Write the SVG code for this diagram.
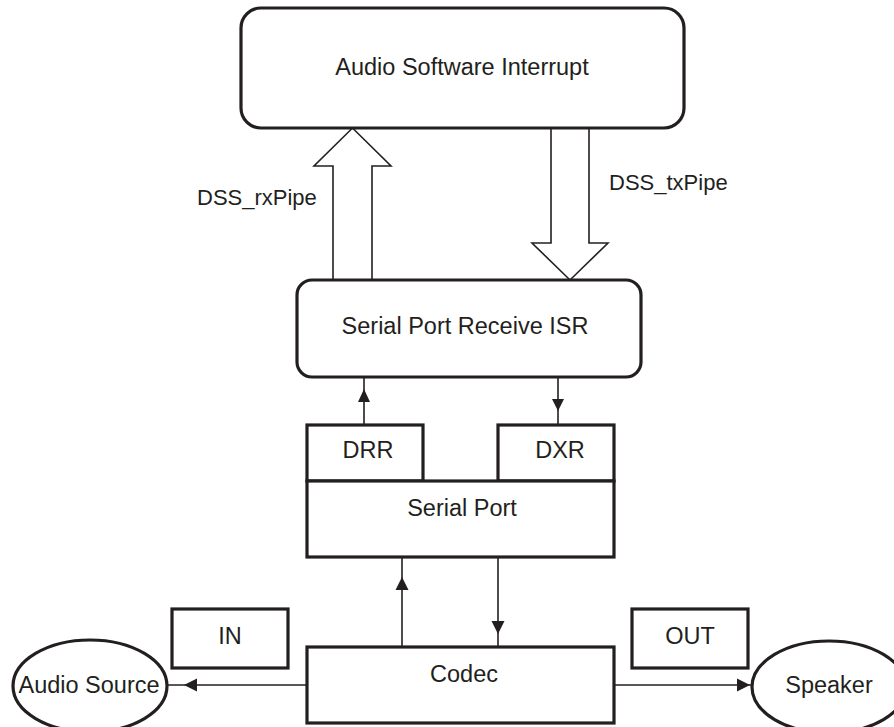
<svg xmlns="http://www.w3.org/2000/svg" width="894" height="727" viewBox="0 0 894 727">
  <style>
    .box { fill: #ffffff; stroke: #231f20; stroke-width: 3.2; }
    .pipe { fill: #ffffff; stroke: #231f20; stroke-width: 1.6; stroke-linejoin: miter; }
    .wire { fill: none; stroke: #231f20; stroke-width: 1.6; }
    .head { fill: #231f20; stroke: none; }
    .lbl { font-family: "Liberation Sans", Arial, sans-serif; font-size: 23.5px; fill: #231f20; text-anchor: middle; }
    .cap { font-family: "Liberation Sans", Arial, sans-serif; font-size: 22px; fill: #231f20; }
  </style>
  <rect x="0" y="0" width="894" height="727" fill="#ffffff"/>

  <!-- connectors -->
  <g id="connectors">
    <!-- DSS_rxPipe: hollow block arrow up -->
    <polygon class="pipe" points="333,280 333,166 314,166 352.5,128 391,166 372,166 372,280"/>
    <text class="cap" x="197" y="205">DSS_rxPipe</text>
    <!-- DSS_txPipe: hollow block arrow down -->
    <polygon class="pipe" points="551,128 551,243 532,243 570,280 608,243 589,243 589,128"/>
    <text class="cap" x="609" y="190">DSS_txPipe</text>

    <!-- DRR -> ISR -->
    <line class="wire" x1="364" y1="425" x2="364" y2="378"/>
    <polygon class="head" points="364,389 358,402 370,402"/>
    <!-- ISR -> DXR -->
    <line class="wire" x1="558" y1="378" x2="558" y2="425"/>
    <polygon class="head" points="558,411 552,399 564,399"/>

    <!-- Codec -> Serial Port -->
    <line class="wire" x1="402" y1="647" x2="402" y2="557"/>
    <polygon class="head" points="402,577 395.5,590 408.5,590"/>
    <!-- Serial Port -> Codec -->
    <line class="wire" x1="498" y1="557" x2="498" y2="647"/>
    <polygon class="head" points="498,634 491.5,621 504.5,621"/>

    <!-- Codec -> Audio Source -->
    <line class="wire" x1="307" y1="685" x2="167" y2="685"/>
    <polygon class="head" points="184,685 197,678.5 197,691.5"/>
    <!-- Codec -> Speaker -->
    <line class="wire" x1="614" y1="685" x2="751" y2="685"/>
    <polygon class="head" points="750,685 737,678.5 737,691.5"/>
  </g>

  <g id="audio-software-interrupt">
    <rect class="box" x="241" y="8" width="443" height="120" rx="20" ry="20"/>
    <text class="lbl" x="462" y="75">Audio Software Interrupt</text>
  </g>

  <g id="serial-port-receive-isr">
    <rect class="box" x="297" y="280" width="344" height="97" rx="15" ry="15"/>
    <text class="lbl" x="465" y="334">Serial Port Receive ISR</text>
  </g>

  <g id="drr">
    <rect class="box" x="307" y="425" width="116" height="56"/>
    <text class="lbl" x="368" y="458">DRR</text>
  </g>

  <g id="dxr">
    <rect class="box" x="498" y="425" width="116" height="56"/>
    <text class="lbl" x="560" y="458">DXR</text>
  </g>

  <g id="serial-port">
    <rect class="box" x="307" y="481" width="307" height="76"/>
    <text class="lbl" x="462" y="516">Serial Port</text>
  </g>

  <g id="in">
    <rect class="box" x="172" y="609" width="116" height="59"/>
    <text class="lbl" x="230" y="644">IN</text>
  </g>

  <g id="out">
    <rect class="box" x="632" y="609" width="116" height="59"/>
    <text class="lbl" x="690" y="644">OUT</text>
  </g>

  <g id="codec">
    <rect class="box" x="307" y="647" width="307" height="76"/>
    <text class="lbl" x="464" y="682">Codec</text>
  </g>

  <g id="audio-source">
    <ellipse class="box" cx="90" cy="686" rx="77" ry="46"/>
    <text class="lbl" x="89" y="693">Audio Source</text>
  </g>

  <g id="speaker">
    <ellipse class="box" cx="829" cy="687" rx="77" ry="46"/>
    <text class="lbl" x="829" y="693">Speaker</text>
  </g>
</svg>
